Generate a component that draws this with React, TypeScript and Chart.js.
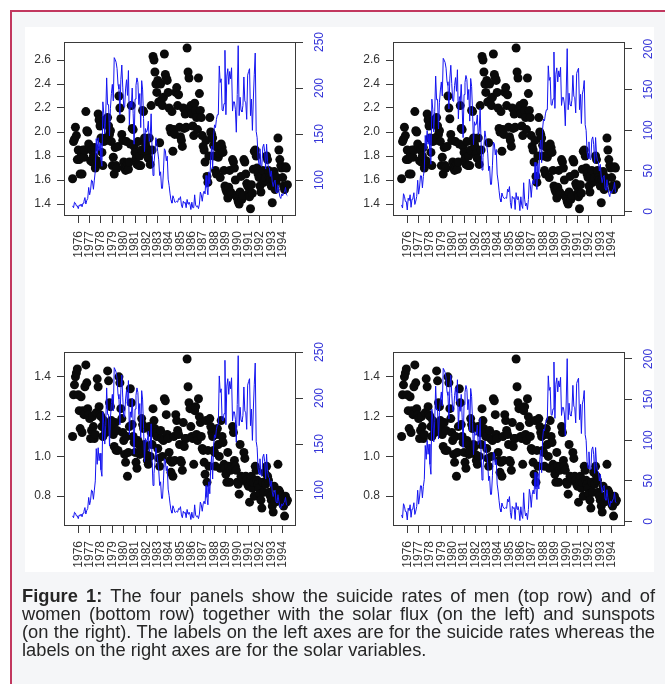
import React, { useEffect, useRef } from "react";
import { Chart, registerables } from "chart.js";

Chart.register(...registerables);

const START_YEAR = 1976;
const YEARS = [1976, 1977, 1978, 1979, 1980, 1981, 1982, 1983, 1984, 1985, 1986, 1987, 1988, 1989, 1990, 1991, 1992, 1993, 1994];

// monthly suicide rate, men (Jan 1976 .. Dec 1994)
const MEN_RATE = [
  1.61, 1.92, 1.94, 2.04, 1.97, 1.77, 1.85, 1.77, 1.65, 1.80, 1.65, 1.85,
  1.79, 1.85, 2.17, 2.01, 2.00, 1.90, 1.88, 1.76, 1.85, 1.75, 1.80, 1.87,
  1.70, 1.74, 1.76, 2.15, 2.10, 2.05, 1.95, 1.83, 1.72, 1.92, 2.10, 1.95,
  1.93, 2.12, 2.05, 1.98, 2.01, 1.92, 1.72, 1.79, 1.65, 1.87, 1.72, 1.70,
  1.88, 2.30, 2.20, 2.11, 1.98, 1.93, 1.75, 1.70, 1.68, 1.92, 1.74, 1.69,
  1.75, 1.90, 2.22, 2.03, 2.02, 1.88, 1.83, 1.78, 1.73, 1.92, 1.72, 1.80,
  1.72, 1.85, 2.18, 2.17, 1.95, 1.90, 1.87, 1.82, 1.78, 1.95, 1.73, 2.22,
  1.85, 2.63, 2.60, 2.50, 2.40, 2.33, 2.43, 2.25, 1.91, 2.40, 2.27, 2.22,
  2.29, 2.65, 2.48, 2.45, 2.43, 2.33, 2.20, 2.03, 2.00, 2.17, 1.84, 2.02,
  1.98, 2.33, 2.37, 2.22, 2.31, 2.04, 1.96, 1.93, 1.88, 2.20, 2.03, 2.15,
  2.04, 2.70, 2.50, 2.45, 2.20, 2.22, 2.15, 2.05, 1.97, 2.24, 2.18, 2.12,
  2.02, 2.45, 2.32, 2.18, 2.12, 1.97, 1.88, 1.85, 1.75, 1.93, 1.63, 1.58,
  1.80, 2.12, 2.00, 1.98, 1.95, 1.89, 1.80, 1.68, 1.65, 1.87, 1.79, 1.82,
  1.62, 1.90, 1.87, 1.83, 1.68, 1.55, 1.52, 1.50, 1.45, 1.54, 1.68, 1.50,
  1.48, 1.77, 1.75, 1.70, 1.60, 1.47, 1.45, 1.42, 1.40, 1.50, 1.63, 1.44,
  1.47, 1.77, 1.75, 1.65, 1.57, 1.55, 1.49, 1.46, 1.36, 1.56, 1.49, 1.69,
  1.84, 1.85, 1.80, 1.70, 1.65, 1.62, 1.55, 1.50, 1.64, 1.68, 1.58, 1.60,
  1.62, 1.80, 1.77, 1.68, 1.62, 1.60, 1.55, 1.41, 1.60, 1.67, 1.52, 1.58,
  1.62, 1.95, 1.85, 1.77, 1.72, 1.70, 1.62, 1.55, 1.52, 1.71, 1.70, 1.56,
];

// monthly suicide rate, women
const WOMEN_RATE = [
  1.10, 1.31, 1.36, 1.40, 1.42, 1.44, 1.31, 1.23, 1.14, 1.30, 1.12, 1.23,
  1.21, 1.35, 1.46, 1.37, 1.24, 1.21, 1.19, 1.09, 1.13, 1.20, 1.15, 1.09,
  1.11, 1.22, 1.39, 1.35, 1.25, 1.21, 1.20, 1.15, 1.10, 1.18, 1.14, 1.12,
  1.16, 1.43, 1.38, 1.27, 1.25, 1.18, 1.14, 1.11, 1.05, 1.17, 1.03, 1.13,
  1.03, 1.40, 1.37, 1.24, 1.19, 1.12, 1.08, 1.01, 0.97, 1.10, 0.90, 1.02,
  1.15, 1.34, 1.27, 1.16, 1.10, 1.07, 1.02, 0.97, 0.94, 1.08, 1.06, 1.01,
  1.03, 1.19, 1.16, 1.14, 1.06, 1.05, 1.01, 0.98, 0.96, 1.15, 1.00, 1.12,
  1.06, 1.24, 1.18, 1.14, 1.12, 1.10, 1.04, 0.99, 0.95, 1.13, 1.09, 1.00,
  1.08, 1.29, 1.28, 1.21, 1.11, 1.09, 1.02, 0.98, 0.92, 0.97, 0.90, 1.10,
  0.98, 1.21, 1.18, 1.13, 1.11, 1.06, 0.98, 0.97, 0.93, 1.17, 1.05, 1.09,
  1.09, 1.49, 1.35, 1.27, 1.24, 1.15, 1.10, 1.09, 0.96, 1.23, 1.25, 1.11,
  1.08, 1.29, 1.20, 1.17, 1.10, 1.04, 1.03, 0.97, 0.91, 1.18, 0.87, 1.03,
  0.95, 1.19, 1.15, 1.12, 1.10, 1.03, 1.02, 0.95, 1.11, 1.14, 1.06, 1.00,
  0.94, 1.18, 1.10, 1.07, 0.96, 0.94, 0.91, 0.87, 1.02, 0.95, 0.87, 0.93,
  0.95, 1.15, 1.12, 0.98, 0.95, 0.93, 0.87, 0.86, 0.81, 1.06, 0.90, 0.88,
  0.89, 1.02, 0.99, 0.90, 0.88, 0.86, 0.85, 0.77, 0.88, 0.90, 0.84, 0.87,
  0.80, 0.95, 0.93, 0.88, 0.86, 0.84, 0.81, 0.78, 0.74, 0.87, 0.82, 0.92,
  0.86, 0.95, 0.90, 0.88, 0.82, 0.80, 0.78, 0.75, 0.72, 0.85, 0.77, 0.80,
  0.79, 0.96, 0.83, 0.82, 0.80, 0.78, 0.76, 0.75, 0.70, 0.80, 0.77, 0.78,
];

// monthly solar flux
const SOLAR_FLUX = [
  72, 70, 76, 75, 72, 72, 69, 73, 72, 74, 71, 75,
  77, 81, 74, 78, 80, 92, 84, 89, 100, 99, 90, 100,
  110, 145, 128, 146, 132, 140, 122, 115, 185, 172, 150, 170,
  211, 182, 182, 148, 178, 194, 204, 186, 233, 231, 228, 221,
  204, 199, 171, 209, 225, 201, 180, 179, 199, 209, 192, 219,
  160, 185, 179, 200, 172, 139, 188, 203, 211, 206, 182, 194,
  157, 208, 198, 167, 131, 156, 152, 154, 164, 142, 146, 172,
  133, 105, 118, 130, 146, 139, 131, 122, 105, 109, 91, 91,
  110, 134, 132, 121, 126, 101, 94, 85, 78, 75, 83, 80,
  76, 76, 77, 76, 80, 79, 82, 73, 70, 77, 75, 76,
  70, 79, 74, 76, 74, 68, 76, 70, 70, 84, 73, 71,
  72, 69, 74, 87, 84, 77, 85, 88, 85, 105, 92, 84,
  109, 96, 126, 137, 112, 149, 160, 157, 166, 171, 171, 224,
  206, 210, 176, 175, 183, 241, 171, 213, 221, 204, 218, 210,
  222, 175, 185, 185, 177, 152, 193, 246, 170, 190, 176, 174,
  181, 212, 186, 184, 166, 214, 218, 221, 170, 188, 154, 188,
  215, 238, 153, 146, 124, 117, 134, 116, 115, 136, 139, 131,
  112, 139, 120, 114, 113, 104, 110, 98, 93, 98, 100, 87,
  86, 95, 88, 82, 80, 85, 83, 86, 87, 92, 84, 83,
];

// monthly sunspot number
const SUNSPOTS = [
  8.1, 4.3, 21.9, 18.8, 12.4, 12.2, 1.9, 16.4, 13.5, 20.6, 5.2, 15.3,
  16.4, 23.1, 8.7, 12.9, 18.6, 38.5, 21.4, 30.1, 44.0, 43.8, 29.1, 43.2,
  51.9, 93.6, 76.5, 99.7, 82.7, 95.1, 70.4, 58.1, 138.2, 125.1, 97.9, 122.7,
  166.6, 137.5, 138.0, 101.5, 134.4, 149.5, 159.4, 142.2, 188.4, 186.2, 183.3, 176.3,
  159.6, 155.0, 126.2, 164.1, 179.9, 157.3, 136.3, 135.4, 155.0, 164.7, 147.9, 174.4,
  114.0, 141.3, 135.5, 156.4, 127.5, 90.9, 143.8, 158.7, 167.3, 162.4, 137.5, 150.1,
  111.2, 163.6, 153.8, 122.0, 82.2, 110.4, 106.1, 107.6, 118.8, 94.7, 98.1, 127.0,
  84.3, 51.0, 66.5, 80.7, 99.2, 91.1, 82.2, 71.8, 50.3, 55.8, 33.3, 33.4,
  57.0, 85.4, 83.5, 69.7, 76.4, 46.1, 37.4, 25.5, 15.7, 12.0, 22.8, 18.7,
  16.5, 15.9, 17.2, 16.2, 27.5, 24.2, 30.7, 11.1, 3.9, 18.6, 16.2, 17.3,
  2.5, 23.2, 15.1, 18.5, 13.7, 1.1, 18.1, 7.4, 3.8, 35.4, 15.2, 6.8,
  10.4, 2.4, 14.7, 39.6, 33.0, 17.4, 33.0, 38.7, 33.9, 60.6, 39.9, 27.1,
  59.0, 40.0, 76.2, 88.0, 60.1, 101.8, 113.8, 111.6, 120.1, 125.1, 125.1, 179.2,
  161.3, 165.1, 131.4, 130.6, 138.5, 196.2, 126.9, 168.9, 176.7, 159.4, 173.0, 165.5,
  177.3, 130.5, 140.3, 140.3, 132.2, 105.4, 149.4, 200.3, 125.2, 145.5, 131.4, 129.7,
  136.9, 167.5, 141.9, 140.0, 121.3, 169.7, 173.7, 176.3, 125.3, 144.1, 108.2, 144.4,
  150.0, 161.1, 106.7, 99.8, 73.8, 65.2, 85.7, 64.5, 63.9, 88.7, 91.8, 82.6,
  59.3, 91.0, 69.8, 62.2, 61.3, 49.8, 57.9, 42.4, 35.5, 42.2, 44.3, 28.4,
  26.2, 39.1, 29.2, 21.8, 18.3, 25.4, 22.8, 26.5, 27.9, 35.8, 23.9, 23.3,
];

const MEN_TICKS = [1.4, 1.6, 1.8, 2.0, 2.2, 2.4, 2.6];
const WOMEN_TICKS = [0.8, 1.0, 1.2, 1.4];
const FLUX_TICKS = [100, 150, 200, 250];
const SUNSPOT_TICKS = [0, 50, 100, 150, 200];

const MEN_RANGE = [1.3, 2.75];
const WOMEN_RANGE = [0.65, 1.525];
const FLUX_RANGE = [61, 250];
const SUNSPOT_RANGE = [-5.5, 208.5];

const CAPTION_LABEL = "Figure 1:";
const CAPTION_LINES = [
  " The four panels show the suicide rates of men (top row) and of",
  "women (bottom row) together with the solar flux (on the left) and sunspots",
  "(on the right). The labels on the left axes are for the suicide rates whereas the",
  "labels on the right axes are for the solar variables.",
];

const FONT_FAMILY = "'Liberation Sans', Arial, Helvetica, sans-serif";
const AXIS_COLOR = "#3a3a3a";
const LABEL_COLOR = "#333333";
const SOLAR_COLOR = "#1414f0";
const SOLAR_LABEL_COLOR = "#3535d8";

const CANVAS_W = 305;
const CANVAS_H = 250;

function toPoints(values: number[]) {
  return values.map((v, i) => ({ x: START_YEAR + i / 12, y: v }));
}

type PanelProps = {
  left: number;
  top: number;
  rates: number[];
  rateTicks: number[];
  rateRange: number[];
  solar: number[];
  solarTicks: number[];
  solarRange: number[];
};

function Panel({ left, top, rates, rateTicks, rateRange, solar, solarTicks, solarRange }: PanelProps) {
  const ref = useRef<HTMLCanvasElement | null>(null);

  useEffect(() => {
    if (!ref.current) return;
    const span = (rates.length - 1) / 12;
    const xMin = START_YEAR - 0.04 * span;
    const xMax = START_YEAR + span * 1.04;

    const frame = {
      id: "rframe",
      afterDraw(chart: any) {
        const { ctx, chartArea } = chart;
        ctx.save();
        ctx.strokeStyle = AXIS_COLOR;
        ctx.lineWidth = 1;
        ctx.strokeRect(
          Math.round(chartArea.left) + 0.5,
          Math.round(chartArea.top) + 0.5,
          Math.round(chartArea.right - chartArea.left) - 1,
          Math.round(chartArea.bottom - chartArea.top) - 1
        );
        const y1 = chart.scales.y1;
        ctx.fillStyle = SOLAR_LABEL_COLOR;
        ctx.font = `12px ${FONT_FAMILY}`;
        ctx.textAlign = "center";
        ctx.textBaseline = "middle";
        solarTicks.forEach((v) => {
          const py = y1.getPixelForValue(v);
          ctx.save();
          ctx.translate(chartArea.right + 24, py);
          ctx.rotate(-Math.PI / 2);
          ctx.fillText(String(v), 0, 0);
          ctx.restore();
        });
        ctx.restore();
      },
    };

    const chart = new Chart(ref.current, {
      type: "scatter",
      data: {
        datasets: [
          {
            type: "line",
            data: toPoints(solar),
            yAxisID: "y1",
            borderColor: SOLAR_COLOR,
            borderWidth: 1,
            pointRadius: 0,
            fill: false,
            tension: 0,
            order: 0,
          } as any,
          {
            type: "scatter",
            data: toPoints(rates),
            yAxisID: "y",
            backgroundColor: "#0a0a0a",
            borderWidth: 0,
            pointRadius: 4.5,
            order: 1,
          } as any,
        ],
      },
      options: {
        animation: false,
        responsive: false,
        maintainAspectRatio: false,
        events: [],
        layout: { padding: { top: 15, left: 0, right: 0, bottom: 0 } },
        plugins: { legend: { display: false }, tooltip: { enabled: false } },
        scales: {
          x: {
            type: "linear",
            position: "bottom",
            min: xMin,
            max: xMax,
            afterBuildTicks: (s: any) => {
              s.ticks = YEARS.map((y) => ({ value: y + 0.5 }));
            },
            afterFit: (s: any) => {
              s.height = 61;
            },
            ticks: {
              autoSkip: false,
              minRotation: 90,
              maxRotation: 90,
              padding: 8,
              color: LABEL_COLOR,
              font: { family: FONT_FAMILY, size: 12 },
              callback: (v: any) => String(Math.floor(Number(v))),
            },
            grid: { drawOnChartArea: false, drawTicks: true, tickLength: 7, color: AXIS_COLOR },
            border: { display: false },
          },
          y: {
            type: "linear",
            position: "left",
            min: rateRange[0],
            max: rateRange[1],
            afterBuildTicks: (s: any) => {
              s.ticks = rateTicks.map((v) => ({ value: v }));
            },
            afterFit: (s: any) => {
              s.width = 39;
            },
            ticks: {
              padding: 6,
              color: LABEL_COLOR,
              font: { family: FONT_FAMILY, size: 12 },
              callback: (v: any) => Number(v).toFixed(1),
            },
            grid: { drawOnChartArea: false, drawTicks: true, tickLength: 7, color: AXIS_COLOR },
            border: { display: false },
          },
          y1: {
            type: "linear",
            position: "right",
            min: solarRange[0],
            max: solarRange[1],
            afterBuildTicks: (s: any) => {
              s.ticks = solarTicks.map((v) => ({ value: v }));
            },
            afterFit: (s: any) => {
              s.width = CANVAS_W - 39 - 232;
            },
            ticks: { display: false },
            grid: { drawOnChartArea: false, drawTicks: true, tickLength: 7, color: AXIS_COLOR },
            border: { display: false },
          },
        },
      } as any,
      plugins: [frame],
    });

    return () => chart.destroy();
  }, []);

  return (
    <canvas
      ref={ref}
      width={CANVAS_W}
      height={CANVAS_H}
      style={{ position: "absolute", left, top, width: CANVAS_W, height: CANVAS_H }}
    />
  );
}

export default function App() {
  const lineStyle = (last: boolean): React.CSSProperties => ({
    whiteSpace: "nowrap",
    textAlign: last ? "left" : "justify",
    textAlignLast: last ? "left" : "justify",
  } as any);

  return (
    <div
      style={{
        position: "fixed",
        left: 0,
        top: 0,
        width: 665,
        height: 684,
        background: "#ffffff",
        overflow: "hidden",
        fontFamily: FONT_FAMILY,
      }}
    >
      <div
        style={{
          position: "absolute",
          left: 10,
          top: 10,
          width: 660,
          height: 680,
          borderTop: "2px solid #c2385f",
          borderLeft: "2px solid #c2385f",
          background: "#f5f6f8",
          boxSizing: "border-box",
        }}
      />
      <div style={{ position: "absolute", left: 25, top: 27, width: 629, height: 545, background: "#ffffff" }} />
      <Panel left={25} top={27} rates={MEN_RATE} rateTicks={MEN_TICKS} rateRange={MEN_RANGE} solar={SOLAR_FLUX} solarTicks={FLUX_TICKS} solarRange={FLUX_RANGE} />
      <Panel left={354} top={27} rates={MEN_RATE} rateTicks={MEN_TICKS} rateRange={MEN_RANGE} solar={SUNSPOTS} solarTicks={SUNSPOT_TICKS} solarRange={SUNSPOT_RANGE} />
      <Panel left={25} top={337} rates={WOMEN_RATE} rateTicks={WOMEN_TICKS} rateRange={WOMEN_RANGE} solar={SOLAR_FLUX} solarTicks={FLUX_TICKS} solarRange={FLUX_RANGE} />
      <Panel left={354} top={337} rates={WOMEN_RATE} rateTicks={WOMEN_TICKS} rateRange={WOMEN_RANGE} solar={SUNSPOTS} solarTicks={SUNSPOT_TICKS} solarRange={SUNSPOT_RANGE} />
      <div
        style={{
          position: "absolute",
          left: 22,
          top: 587,
          width: 633,
          fontSize: 18.3,
          lineHeight: "18px",
          color: "#262626",
        }}
      >
        {CAPTION_LINES.map((line, i) => (
          <div key={i} style={lineStyle(i === CAPTION_LINES.length - 1)}>
            {i === 0 ? <b>{CAPTION_LABEL}</b> : null}
            {line}
          </div>
        ))}
      </div>
    </div>
  );
}
